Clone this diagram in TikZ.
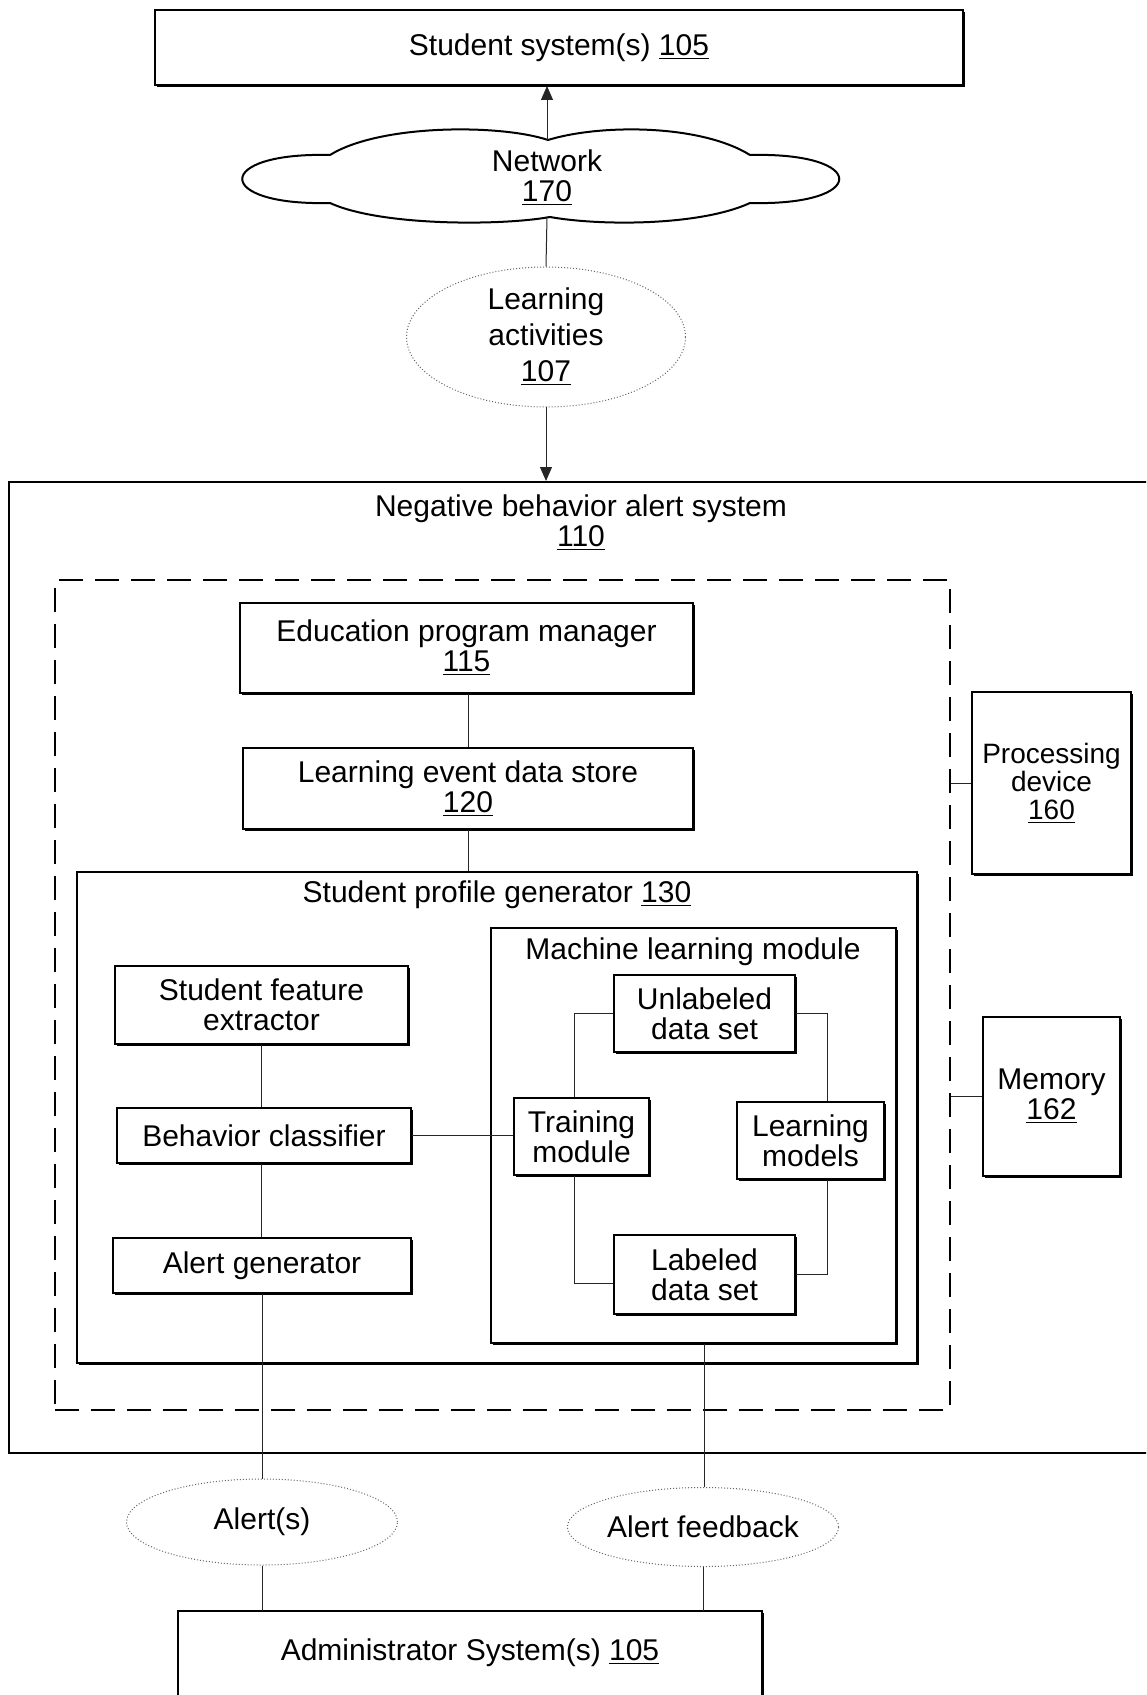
\documentclass[tikz,border=0pt]{standalone}
\usepackage{fontspec}
\setmainfont{Liberation Sans}
\usetikzlibrary{arrows.meta,shadows,shapes.geometric}

\begin{document}
\begin{tikzpicture}[x=0.5pt,y=-0.5pt,
  every node/.style={font=\fontsize{15}{15}\selectfont, align=center, inner sep=0pt},
  blk/.style={draw=black, line width=1pt, fill=white,
    general shadow={fill=black, shadow xshift=0.8pt, shadow yshift=-1pt}},
  frame/.style={draw=black, line width=1pt},
  wire/.style={line width=0.5pt, draw=black!85},
  bubble/.style={ellipse, draw=black!60, densely dotted, line width=0.5pt, fill=white},
  tip/.style={-{Triangle[length=7pt,width=6pt]}},
  ttl/.style={},
]
\useasboundingbox (0,0) rectangle (1146,1695);
\clip (0,0) rectangle (1146,1695);

% student systems and network
\node[blk, minimum width=404pt, minimum height=37.5pt] (stu) at (559,47.5) {Student system(s) \underline{105}};

\draw[line width=1pt, fill=white]
  (548,140) .. controls (500,124) and (380,124) .. (330,155)
  .. controls (213,152) and (213,206) .. (330,203)
  .. controls (380,226) and (500,226) .. (550,217)
  .. controls (600,226) and (700,226) .. (750,203)
  .. controls (869,206) and (869,152) .. (750,155)
  .. controls (700,124) and (600,124) .. cycle;
\node[minimum width=250pt, minimum height=38pt] (net) at (547,178) {Network\\\underline{170}};

\node[bubble, minimum width=139.5pt, minimum height=70pt, font=\fontsize{15}{18}\selectfont]
  (learn) at (546,337) {Learning\\activities\\\underline{107}};

\draw[wire, tip] (net.north) -- (net.north |- stu.south);
\draw[wire] (net.south) -- (learn.north);

% negative behavior alert system
\node[frame, minimum width=585.5pt, minimum height=485.5pt] (nbas) at (594.5,967.5) {};
\node[ttl] (nbast) at (581,523) {Negative behavior alert system\\\underline{110}};
\draw[wire, tip] (learn.south) -- (learn.south |- nbas.north);

\node[draw=black, line width=1pt, dash pattern=on 12pt off 6pt,
  minimum width=447.5pt, minimum height=415pt] (core) at (502.5,995) {};

\node[blk, minimum width=226.5pt, minimum height=45pt] (epm) at (466.5,648) {Education program manager\\\underline{115}};
\node[blk, minimum width=225pt, minimum height=40.5pt] (leds) at (468,788.5) {Learning event data store\\\underline{120}};

% student profile generator
\node[blk, minimum width=420pt, minimum height=245.5pt] (spg) at (497,1117.5) {};
\node[ttl] (spgt) at (497,895) {Student profile generator \underline{130}};

\node[blk, minimum width=146.5pt, minimum height=39pt] (sfe) at (261.5,1005) {Student feature\\extractor};
\node[blk, minimum width=147pt, minimum height=27.5pt] (bc) at (264,1135.5) {Behavior classifier};
\node[blk, minimum width=149pt, minimum height=27.5pt] (ag) at (262,1265.5) {Alert generator};

% machine learning module
\node[blk, minimum width=202.5pt, minimum height=207.5pt] (mlm) at (693.5,1135.5) {};
\node[ttl] (mlmt) at (693,952) {Machine learning module};
\node[blk, minimum width=90.5pt, minimum height=38.5pt] (unl) at (704.5,1013.5) {Unlabeled\\data set};
\node[blk, minimum width=67.5pt, minimum height=38.5pt] (trn) at (581.5,1136.5) {Training\\module};
\node[blk, minimum width=73.5pt, minimum height=38.5pt] (lm) at (810.5,1140.5) {Learning\\models};
\node[blk, minimum width=90.5pt, minimum height=39.5pt] (lab) at (704.5,1274.5) {Labeled\\data set};

% side devices
\node[blk, minimum width=79.5pt, minimum height=91pt, font=\fontsize{14}{14}\selectfont]
  (pd) at (1051.5,783) {Processing\\device\\\underline{160}};
\node[blk, minimum width=68.5pt, minimum height=79.5pt] (mem) at (1051.5,1096.5) {Memory\\\underline{162}};

% alerts and administrator
\node[bubble, minimum width=135.5pt, minimum height=43pt] (alerts) at (262,1522) {Alert(s)};
\node[bubble, minimum width=135.5pt, minimum height=39.5pt] (afb) at (703,1527) {Alert feedback};
\draw[blk] (178,1611) rectangle (762,1740);
\node (admin) at (470,1653) {Administrator System(s) \underline{105}};
\coordinate (admtop) at (470,1611);

% connectors
\draw[wire] (leds.north |- epm.south) -- (leds.north);
\draw[wire] (leds.south) -- (leds.south |- spg.north);
\draw[wire] (sfe.south) -- (sfe.south |- bc.north);
\draw[wire] (sfe.south |- bc.south) -- (sfe.south |- ag.north);
\draw[wire] (bc.east) -- (bc.east -| trn.west);
\draw[wire] (unl.west) -| ([xshift=-3.75pt]trn.north);
\draw[wire] (unl.east) -| ([xshift=8.25pt]lm.north);
\draw[wire] ([xshift=-3.75pt]trn.south) |- ([yshift=-4.25pt]lab.west);
\draw[wire] ([xshift=8.25pt]lm.south) |- (lab.east);
\draw[wire] (pd.west) -- (pd.west -| core.east);
\draw[wire] (mem.west) -- (mem.west -| core.east);
\draw[wire] (ag.south) -- (ag.south |- alerts.north);
\draw[wire] (lab.south |- mlm.south) -- (lab.south |- afb.north);
\draw[wire] (alerts.south) -- (alerts.south |- admtop);
\draw[wire] (afb.south) -- (afb.south |- admtop);
\end{tikzpicture}
\end{document}
